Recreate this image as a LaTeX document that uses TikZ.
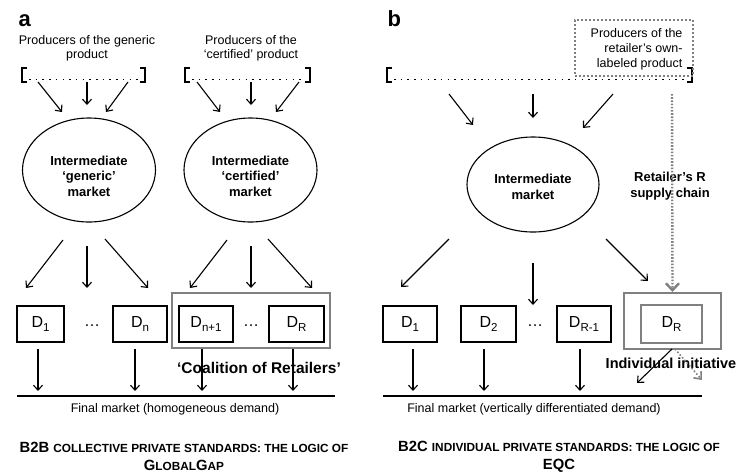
\documentclass[tikz,border=0pt]{standalone}
\usepackage{fontspec}
\setmainfont{Liberation Sans}
\usetikzlibrary{shapes.geometric,arrows.meta}
\newcommand{\Dsub}[1]{D\raisebox{-.45ex}{\fontsize{11.5}{12}\selectfont#1}}
\newcommand{\capsm}[1]{{\fontsize{11.8}{12}\selectfont#1}}
\begin{document}
\begin{tikzpicture}[x=1pt,y=-1pt,line width=1.1pt,
    >={Straight Barb[length=5pt,width=9pt]},
    txt/.style={font=\fontsize{12.5}{14}\selectfont,align=center,inner sep=0pt},
    btxt/.style={font=\fontsize{13}{15.5}\selectfont\bfseries,align=center,inner sep=0pt},
    big/.style={font=\fontsize{15.5}{18}\selectfont\bfseries,inner sep=0pt},
    panel/.style={font=\fontsize{22}{22}\selectfont\bfseries,anchor=base west,inner sep=0pt},
    market/.style={ellipse,draw,minimum width=133,minimum height=104},
    dbox/.style={draw,minimum height=36,font=\fontsize{16}{18}\selectfont,inner sep=0pt},
    gbox/.style={draw=gray,line width=2pt,inner sep=0pt},
    brk/.style={line width=2.2pt},
    dotline/.style={line width=1.5pt,dash pattern=on 1.5pt off 5.2pt},
    gdot/.style={gray,line width=2.4pt,dash pattern=on 1.6pt off 1.6pt},
    caption/.style={font=\fontsize{14.8}{18}\selectfont\bfseries,align=center,inner sep=0pt}]
    \useasboundingbox (0,0) rectangle (740,475);
    % brackets with the producers
    \foreach \l/\r in {22/145,185/310,387/692}{
        \draw[brk] (\l+5,68) -| (\l,82) -- +(5,0);
        \draw[brk] (\r-5,68) -| (\r,82) -- +(-5,0);
        \draw[dotline] (\l+7,79.5) -- (\r-5,79.5);
    }
    % panel a
    \node[panel] (la) at (18,26) {a};
    \node[txt] (pgen) at (87,48.5) {Producers of the generic\\product};
    \node[txt] (pcert) at (251,48.5) {Producers of the\\`certified' product};
    \node[market] (gmkt) at (89,170) {};
    \node[btxt] (tgmkt) at ([yshift=-6pt]gmkt.center) {Intermediate\\`generic'\\market};
    \node[market] (cmkt) at (250.5,170) {};
    \node[btxt] (tcmkt) at ([yshift=-6pt]cmkt.center) {Intermediate\\`certified'\\market};
    \node[gbox,minimum width=158,minimum height=55] (coal) at (251,320.5) {};
    \node[dbox,minimum width=47] (d1) at (40.5,324) {\Dsub{1}};
    \node[dbox,minimum width=54] (dn) at (140,324) {\Dsub{n}};
    \node[dbox,minimum width=54] (dn1) at (206,324) {\Dsub{n+1}};
    \node[dbox,minimum width=55] (dR) at (296.5,324) {\Dsub{R}};
    \node[txt,font=\fontsize{16}{18}\selectfont] (dots1) at (92,326) {\dots};
    \node[txt,font=\fontsize{16}{18}\selectfont] (dots2) at (251,326) {\dots};
    \node[big] (coalt) at (259,368) {`Coalition of Retailers'};
    \draw[line width=2.4pt] (17,396) -- (335,396);
    \node[txt] (fina) at (175,409) {Final market (homogeneous demand)};
    \node[caption] (capa) at (184,456.5)
        {B2B \capsm{COLLECTIVE PRIVATE STANDARDS: THE LOGIC OF}\\G\capsm{LOBAL}G\capsm{AP}};
    % panel b
    \node[panel] (lb) at (387,26) {b};
    \node[gbox,dash pattern=on 2pt off 2pt,minimum width=118,minimum height=56] (ownbox) at (634,48) {};
    \node[txt,font=\fontsize{12.5}{15}\selectfont,align=right,anchor=east] (owntxt) at (683,49)
        {Producers of the\\retailer's own-\\labeled product};
    \node[market,minimum width=132,minimum height=95] (imkt) at (533,184.5) {};
    \node[btxt] (timkt) at ([yshift=-2.5pt]imkt.center) {Intermediate\\market};
    \node[btxt] (rsc) at (670,186) {Retailer's R\\supply chain};
    \node[gbox,minimum width=97,minimum height=56] (indiv) at (672.5,321) {};
    \node[dbox,minimum width=54] (e1) at (410,324) {\Dsub{1}};
    \node[dbox,minimum width=55] (e2) at (488.5,324) {\Dsub{2}};
    \node[dbox,minimum width=54] (eR1) at (584,324) {\Dsub{R-1}};
    \node[dbox,draw=gray,line width=2pt,minimum width=61,minimum height=38] (eR) at (671.5,324) {\Dsub{R}};
    \node[txt,font=\fontsize{16}{18}\selectfont] (dots3) at (535,326) {\dots};
    \node[big,font=\fontsize{14.5}{18}\selectfont\bfseries] (indt) at (671,363) {Individual initiative};
    \draw[line width=2.4pt] (383,396) -- (702,396);
    \node[txt] (finb) at (534,409) {Final market (vertically differentiated demand)};
    \node[caption] (capb) at (559,456.5)
        {B2C \capsm{INDIVIDUAL PRIVATE STANDARDS: THE LOGIC OF}\\EQC};
    % arrows
    \foreach \a/\b/\c/\d [count=\i] in {38/82/62/112,87/82/87/105,128/82/106/112,
        197/82/220/112,251/82/251/105,299/82/276/112,
        63/240/26/288,87/246/87/288,105/239/148/288,
        227/240/190/288,251/246/251/288,268/239/312/288,
        38/349/38/391,135/349/135/391,202/349/202/391,293/349/293/391,
        449/94/473/125,533/94/533/118,613/94/583/128,
        449/239/401/287,533/263/533/305,606/239/648/281,
        413/349/413/391,484/349/484/391,580/349/580/391,672/349/637/383}{
        \coordinate (s\i) at (\a,\b);
        \coordinate (t\i) at (\c,\d);
        \draw[->] (s\i) -- (t\i);
    }
    % retailer's own supply chain
    \coordinate (rs) at (672,94);
    \draw[gdot,-{Straight Barb[length=7pt,width=13pt]}] (rs) -- (indiv.north);
    \coordinate (ri) at (675,349);
    \coordinate (rt) at (702,380);
    \draw[gray,line width=1.6pt,dash pattern=on 1.6pt off 2pt,-{Straight Barb[length=6pt,width=10pt]}] (ri) -- (rt);
\end{tikzpicture}
\end{document}
